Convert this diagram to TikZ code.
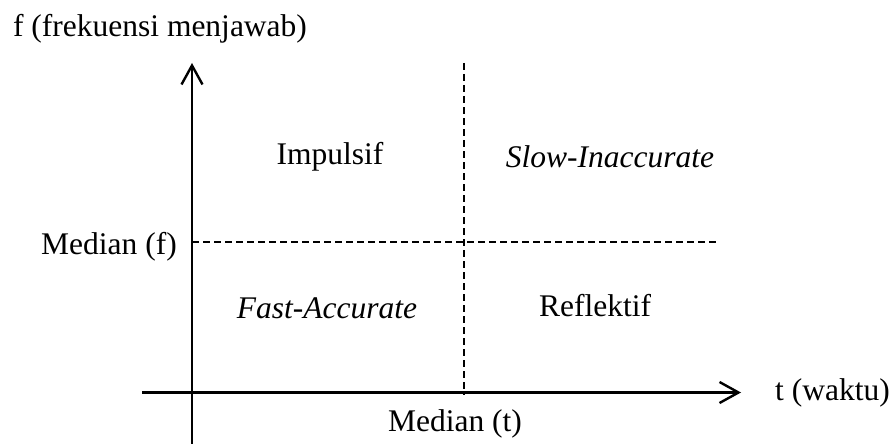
\documentclass[tikz,border=0pt]{standalone}
\usepackage{fontspec}
\setmainfont{Liberation Serif}
\usetikzlibrary{arrows.meta}
\begin{document}
\begin{tikzpicture}[x=1pt,y=-1pt,
  axis/.style={line width=2.4pt,-{Straight Barb[length=19pt,width=21pt,line width=2.4pt]}},
  divider/.style={line width=2pt,dash pattern=on 7pt off 4pt},
  lbl/.style={font=\fontsize{31.5}{36}\selectfont,inner sep=0pt}]
\useasboundingbox (0,0) rectangle (892,444);
% axes
\coordinate (yb) at (192,444);
\coordinate (yt) at (192,63);
\coordinate (xl) at (142,392.5);
\coordinate (xr) at (741,392.5);
\draw[axis] (yb) -- (yt);
\draw[axis] (xl) -- (xr);
% median dividers
\coordinate (vt) at (464,63);
\coordinate (vb) at (464,395);
\coordinate (hl) at (192,241.7);
\coordinate (hr) at (718,241.7);
\draw[divider] (vt) -- (vb);
\draw[divider] (hl) -- (hr);
% labels
\node[lbl] (fax) at (160,28.5) {f (frekuensi menjawab)};
\node[lbl,anchor=west] (tax) at (775,393) {t (waktu)};
\node[lbl,anchor=east] (medf) at (177,247) {Median (f)};
\node[lbl] (medt) at (455,424) {Median (t)};
\node[lbl] (imp) at (330,157) {Impulsif};
\node[lbl] (si) at (610,157) {\itshape Slow-Inaccurate};
\node[lbl] (fa) at (327,308) {\itshape Fast-Accurate};
\node[lbl] (ref) at (595,306) {Reflektif};
\end{tikzpicture}
\end{document}
